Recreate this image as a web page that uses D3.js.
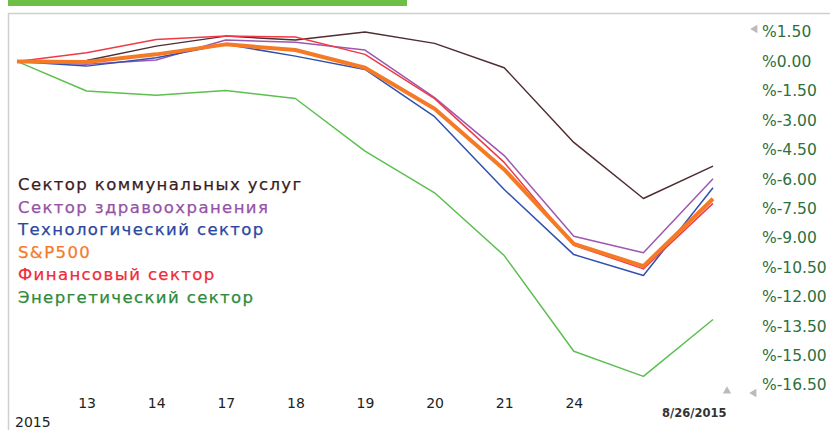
<!DOCTYPE html>
<html>
<head>
<meta charset="utf-8">
<script src="https://cdn.jsdelivr.net/npm/d3@7"></script>
<style>
  body { margin: 0; background: #fff; }
  svg { display: block; font-family: "DejaVu Sans", Verdana, sans-serif; }
</style>
</head>
<body>
<svg></svg>
<script>
// ====== Données ====== //
const dates = ["12", "13", "14", "17", "18", "19", "20", "21", "24", "25", "26"];
const tickDates = ["13", "14", "17", "18", "19", "20", "21", "24"];
const yTicks = [1.5, 0, -1.5, -3, -4.5, -6, -7.5, -9, -10.5, -12, -13.5, -15, -16.5];

const utilities = [0, 0.05, 0.78, 1.29, 1.09, 1.5, 0.92, -0.32, -4.13, -6.99, -5.34];
const health    = [0, -0.15, 0.07, 1.09, 0.98, 0.58, -1.85, -4.8, -8.91, -9.76, -5.98];
const tech      = [0, -0.24, 0.19, 0.87, 0.27, -0.41, -2.82, -6.53, -9.85, -10.92, -6.44];
const sp500     = [0, -0.03, 0.36, 0.87, 0.58, -0.32, -2.41, -5.51, -9.3, -10.44, -7.0];
const finance   = [0, 0.44, 1.12, 1.29, 1.24, 0.36, -1.9, -5.15, -9.37, -10.58, -7.24];
const energy    = [0, -1.51, -1.72, -1.48, -1.89, -4.57, -6.7, -9.9, -14.78, -16.06, -13.16];

const legendNames = ["Сектор коммунальных услуг", "Сектор здравоохранения", "Технологический сектор",
                     "S&P500", "Финансовый сектор", "Энергетический сектор"];

// ====== Constantes ====== //
const width = 830, height = 430;
const svg = d3.select("svg").attr("width", width).attr("height", height);

const x = d3.scalePoint().domain(dates).range([17, 713]);
const y = d3.scaleLinear().domain([-16.5, 1.5]).range([385, 32]);

// barre verte + cadre
svg.append("rect").attr("x", 8).attr("y", 0).attr("width", 399).attr("height", 6).attr("fill", "#6dbf45");
svg.append("line").attr("x1", 8).attr("x2", width).attr("y1", 13.5).attr("y2", 13.5).attr("stroke", "#cfcfcf").attr("stroke-width", 1.5);
svg.append("line").attr("x1", 8.5).attr("x2", 8.5).attr("y1", 13).attr("y2", height).attr("stroke", "#cfcfcf").attr("stroke-width", 1.5);

// séries
const series = [
  { values: energy,    color: "#5cbf50", text: "#2f8a3c", w: 1.5 },
  { values: utilities, color: "#4f2d31", text: "#3a1c1e", w: 1.5 },
  { values: health,    color: "#9c58b0", text: "#9552a6", w: 1.5 },
  { values: tech,      color: "#3050b0", text: "#2a479e", w: 1.5 },
  { values: finance,   color: "#f03a45", text: "#ee2c38", w: 1.5 },
  { values: sp500,     color: "#f57a26", text: "#f47a2a", w: 4 }
];

const line = d3.line().x((d, i) => x(dates[i])).y(d => y(d));

svg.selectAll("path.serie")
  .data(series)
  .enter()
  .append("path")
  .attr("class", "serie")
  .attr("d", d => line(d.values))
  .attr("fill", "none")
  .attr("stroke", d => d.color)
  .attr("stroke-width", d => d.w)
  .attr("stroke-linejoin", "round");

// légende
const legendColors = [series[1].text, series[2].text, series[3].text, series[5].text, series[4].text, series[0].text];
svg.selectAll("text.legend")
  .data(legendNames)
  .enter()
  .append("text")
  .attr("class", "legend")
  .attr("x", 18)
  .attr("y", (d, i) => 190 + i * 22.6)
  .attr("font-size", 16.5)
  .attr("letter-spacing", 1.4)
  .attr("fill", (d, i) => legendColors[i])
  .attr("stroke", (d, i) => legendColors[i])
  .attr("stroke-width", 0.25)
  .text(d => d);

// axe Y à droite
const yAxis = svg.append("g")
  .attr("transform", "translate(762,0)")
  .call(d3.axisRight(y).tickValues(yTicks).tickSize(0).tickPadding(0)
    .tickFormat(d => "%" + d.toFixed(2)));
yAxis.select(".domain").remove();
yAxis.selectAll("text").attr("font-size", 15.5).attr("fill", "#2e7040")
  .attr("font-family", "DejaVu Sans, Verdana, sans-serif");

// axe X
const xAxis = svg.append("g")
  .attr("transform", "translate(0,398)")
  .call(d3.axisBottom(x).tickValues(tickDates).tickSize(0).tickPadding(0));
xAxis.select(".domain").remove();
xAxis.selectAll("text").attr("font-size", 14).attr("fill", "#222")
  .attr("font-family", "DejaVu Sans, Verdana, sans-serif");

svg.append("text").attr("x", 15).attr("y", 427).attr("font-size", 14).attr("fill", "#222").text("2015");
svg.append("text").attr("x", 662).attr("y", 417).attr("font-size", 11.5).attr("font-weight", "bold")
  .attr("fill", "#333").text("8/26/2015");

// petits triangles gris
const tri = d3.symbol().type(d3.symbolTriangle).size(30);
svg.append("path").attr("d", tri).attr("transform", "translate(727,391)").attr("fill", "#bbb");
svg.append("path").attr("d", tri).attr("transform", "translate(754,393) rotate(-90)").attr("fill", "#bbb");
svg.append("path").attr("d", tri).attr("transform", "translate(755,29) rotate(-90)").attr("fill", "#bbb");
</script>
</body>
</html>
